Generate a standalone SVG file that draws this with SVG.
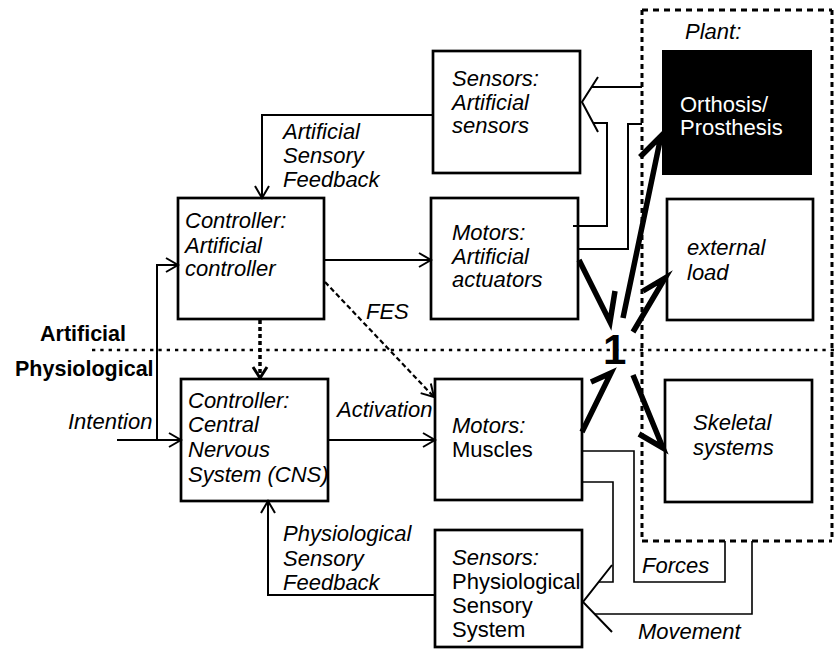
<svg xmlns="http://www.w3.org/2000/svg" width="839" height="650" viewBox="0 0 839 650">
<defs>
<style>
.box{fill:#fff;stroke:#000;stroke-width:2.7}
.t{font-family:"Liberation Sans",Arial,sans-serif;font-size:22px;fill:#000}
.i{font-style:italic}
.b{font-weight:bold;font-size:21.5px}
.c{fill:none;stroke:#000;stroke-width:2}
.thin{fill:none;stroke:#000;stroke-width:1.6}
.thick{fill:none;stroke:#000;stroke-width:5.5;stroke-linejoin:miter;stroke-miterlimit:10}
.dh{fill:none;stroke:#000;stroke-width:3;stroke-dasharray:6 5}
.dv{fill:none;stroke:#000;stroke-width:3;stroke-dasharray:5 4}
.dot{fill:none;stroke:#000;stroke-width:2.6;stroke-dasharray:3.3 5}
</style>
<marker id="ah" viewBox="-14 -9 16 18" markerWidth="16" markerHeight="18" refX="0" refY="0" markerUnits="userSpaceOnUse" orient="auto">
<path d="M-12,-7 L0,0 L-12,7" fill="none" stroke="#000" stroke-width="2"/>
</marker>
<marker id="ahb" viewBox="-14 -9 16 18" markerWidth="16" markerHeight="18" refX="0" refY="0" markerUnits="userSpaceOnUse" orient="auto">
<path d="M-11,-7 L0,0 L-11,7" fill="none" stroke="#000" stroke-width="3"/>
</marker>
</defs>
<rect width="839" height="650" fill="#fff"/>

<g id="plant">
<line class="dh" x1="642" y1="10" x2="832" y2="10"/>
<line class="dh" x1="642" y1="541" x2="832" y2="541"/>
<line class="dv" x1="642" y1="10" x2="642" y2="541"/>
<line class="dv" x1="832" y1="10" x2="832" y2="541"/>
<text class="t i" x="685" y="39">Plant:</text>
</g>

<g id="separator">
<line class="dot" x1="92" y1="350" x2="839" y2="350"/>
<text class="t b" x="40" y="341">Artificial</text>
<text class="t b" x="15" y="376">Physiological</text>
</g>

<g id="sensors-artificial">
<rect class="box" x="433" y="51" width="147" height="122"/>
<text class="t i" x="452"><tspan x="452" y="86">Sensors:</tspan><tspan x="452" y="110">Artificial</tspan><tspan x="452" y="133">sensors</tspan></text>
</g>

<g id="orthosis">
<rect x="663" y="51" width="148" height="123" fill="#000" stroke="#000" stroke-width="2"/>
<text class="t" x="680" fill="#fff" style="fill:#fff"><tspan x="680" y="112">Orthosis/</tspan><tspan x="680" y="135">Prosthesis</tspan></text>
</g>

<g id="controller-artificial">
<rect class="box" x="178" y="198" width="146" height="121"/>
<text class="t i"><tspan x="185" y="228">Controller:</tspan><tspan x="185" y="253">Artificial</tspan><tspan x="185" y="276">controller</tspan></text>
</g>

<g id="motors-artificial">
<rect class="box" x="431" y="198" width="147" height="121"/>
<text class="t i"><tspan x="452" y="240">Motors:</tspan><tspan x="452" y="264">Artificial</tspan><tspan x="452" y="287">actuators</tspan></text>
</g>

<g id="external-load">
<rect class="box" x="667" y="199" width="146" height="121"/>
<text class="t i"><tspan x="687" y="255">external</tspan><tspan x="687" y="280">load</tspan></text>
</g>

<g id="controller-cns">
<rect class="box" x="181" y="379" width="147" height="122"/>
<text class="t i"><tspan x="188" y="408">Controller:</tspan><tspan x="188" y="432">Central</tspan><tspan x="188" y="457">Nervous</tspan><tspan x="188" y="482">System (CNS)</tspan></text>
</g>

<g id="motors-muscles">
<rect class="box" x="435" y="379" width="147" height="121"/>
<text class="t"><tspan class="i" x="452" y="433">Motors:</tspan><tspan x="452" y="457">Muscles</tspan></text>
</g>

<g id="skeletal">
<rect class="box" x="665" y="380" width="147" height="122"/>
<text class="t i"><tspan x="693" y="430">Skeletal</tspan><tspan x="693" y="455">systems</tspan></text>
</g>

<g id="sensors-physiological">
<rect class="box" x="435" y="530" width="147" height="117"/>
<text class="t"><tspan class="i" x="452" y="565">Sensors:</tspan><tspan x="452" y="589">Physiological</tspan><tspan x="452" y="613">Sensory</tspan><tspan x="452" y="637">System</tspan></text>
</g>

<g id="connectors">
<polyline class="c" points="433,115 262,115 262,198" marker-end="url(#ah)"/>
<text class="t i"><tspan x="283" y="139">Artificial</tspan><tspan x="283" y="163">Sensory</tspan><tspan x="283" y="187">Feedback</tspan></text>
<line class="c" x1="324" y1="260" x2="431" y2="260" marker-end="url(#ah)"/>
<line class="c" x1="117" y1="440" x2="181" y2="440" marker-end="url(#ah)"/>
<polyline class="c" points="157,440 157,265 178,265" marker-end="url(#ah)"/>
<text class="t i" x="68" y="429">Intention</text>
<line x1="260" y1="320" x2="260" y2="378" fill="none" stroke="#000" stroke-width="3.5" stroke-dasharray="4 3" marker-end="url(#ahb)"/>
<line x1="325" y1="282" x2="434" y2="397" fill="none" stroke="#000" stroke-width="2.2" stroke-dasharray="5 3" marker-end="url(#ah)"/>
<text class="t i" x="366" y="319">FES</text>
<line class="c" x1="328" y1="440" x2="435" y2="440" marker-end="url(#ah)"/>
<text class="t i" x="337" y="417">Activation</text>
<polyline class="c" points="435,595 268,595 268,501" marker-end="url(#ah)"/>
<text class="t i"><tspan x="283" y="541">Physiological</tspan><tspan x="283" y="566">Sensory</tspan><tspan x="283" y="590">Feedback</tspan></text>

<polyline class="c" points="598,77 582,102 598,132"/>
<line class="c" x1="592" y1="87" x2="642" y2="87"/>
<polyline class="c" points="593,123 607,123 607,226 573,226"/>
<polyline class="c" points="642,124 628,124 628,249 578,249"/>

<polyline class="c" points="612,565 583,602 612,632"/>
<polyline class="thin" points="582,482 613,482 613,582 599,582"/>
<polyline class="thin" points="594,614 752,614 752,541"/>
<polyline class="thin" points="582,451 634,451 634,582 725,582 725,541"/>
<text class="t i" x="642" y="573">Forces</text>
<text class="t i" x="638" y="639">Movement</text>

<polyline class="thick" points="579,260 610,322 615,291"/>
<polyline class="thick" points="623,318 661,136 640,157"/>
<polyline class="thick" points="633,332 665,278 643,291"/>
<polyline class="thick" points="582,432 611,373 591,382"/>
<polyline class="thick" points="633,375 663,448 639,434"/>
<text class="t" x="603" y="364" style="font-weight:bold;font-size:42px">1</text>
</g>
</svg>
